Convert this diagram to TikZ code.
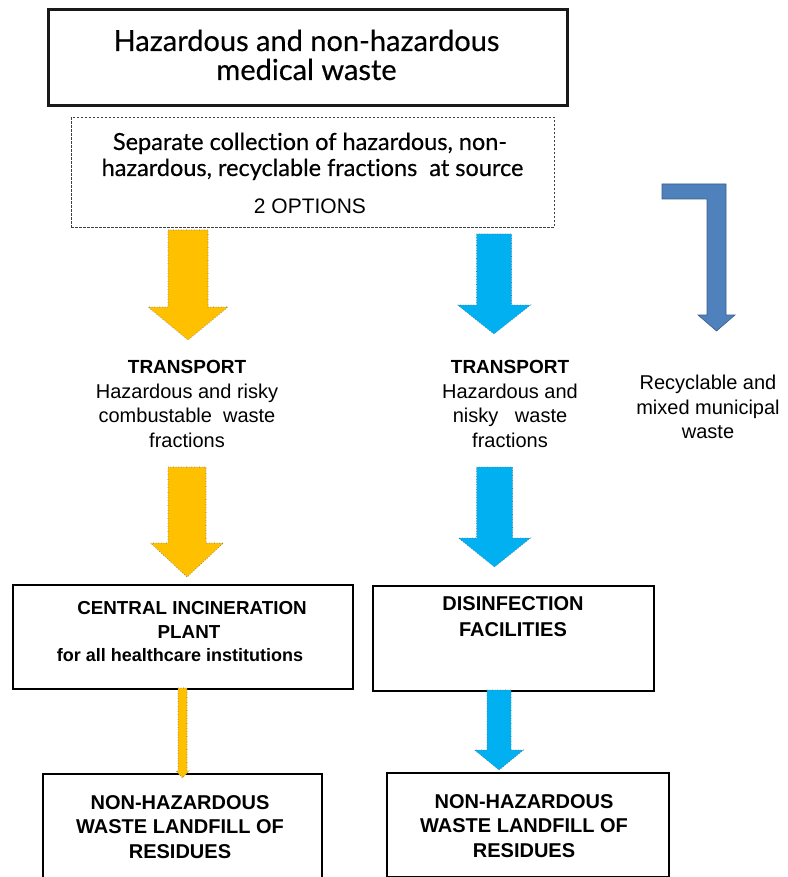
\documentclass[tikz,border=0pt]{standalone}
\usepackage{fontspec}
\setmainfont{Liberation Sans}
\newfontfamily\titlefont[FakeBold=0.4,Ligatures=NoCommon]{Lato}
\definecolor{arrYellow}{HTML}{FFC000}
\definecolor{arrCyan}{HTML}{00B0F0}
\definecolor{arrSteel}{HTML}{4F81BD}
\definecolor{arrSteelEdge}{HTML}{385D8A}
\definecolor{arrEdge}{HTML}{5B6B86}
\newcommand\blockdown[7]{% style, cx, top, base, tip, half shaft, half head
  \draw[#1] ({#2-#6},#3) -- ({#2+#6},#3) -- ({#2+#6},#4) -- ({#2+#7},#4) -- (#2,#5)
    -- ({#2-#7},#4) -- ({#2-#6},#4) -- cycle;}
\begin{document}
\begin{tikzpicture}[x=1pt,y=-1pt,
  boxframe/.style={draw=black, line width=1.5pt, inner sep=0pt, anchor=north west},
  linetext/.style={anchor=base, inner sep=0pt, font=\fontsize{20}{24}\selectfont},
  boldline/.style={anchor=base, inner sep=0pt, font=\fontsize{20}{24}\selectfont\bfseries},
  yellowarrow/.style={fill=arrYellow, draw=arrEdge, line width=0.6pt, dotted},
  cyanarrow/.style={fill=arrCyan, draw=arrEdge, line width=0.6pt, dotted},
  steelarrow/.style={fill=arrSteel, draw=arrSteelEdge, line width=0.6pt}]
\useasboundingbox (0,0) rectangle (787,877);

% boxes
\node[boxframe, draw=black!90, line width=2.6pt, minimum width=519pt, minimum height=96pt] (topbox) at (47,8) {};
\node[boxframe, draw=black!75, line width=0.8pt, dash pattern=on 2.5pt off 1.5pt, minimum width=483pt, minimum height=110pt] (sepbox) at (71,117) {};
\node[boxframe, minimum width=340pt, minimum height=104pt] (incbox) at (12,584) {};
\node[boxframe, minimum width=281pt, minimum height=105pt] (disbox) at (372,585) {};
\node[boxframe, minimum width=279pt, minimum height=110pt] (landL) at (42,773) {};
\node[boxframe, minimum width=282pt, minimum height=104pt] (landR) at (386,772) {};

% title text
\node[anchor=base, inner sep=0pt, font=\titlefont\fontsize{29}{33}\selectfont] (t1) at (306.5,51) {Hazardous and non-hazardous};
\node[anchor=base, inner sep=0pt, font=\titlefont\fontsize{29}{33}\selectfont] (t2) at (306.5,80) {medical waste};

% separate collection text
\node[anchor=base, inner sep=0pt, font=\titlefont\fontsize{23.5}{26}\selectfont] (s1) at (310,150) {Separate collection of hazardous, non-};
\node[anchor=base, inner sep=0pt, font=\titlefont\fontsize{23.5}{26}\selectfont] (s2) at (312.5,176) {hazardous, recyclable fractions\ \ at source};
\node[anchor=base, inner sep=0pt, font=\fontsize{21}{24}\selectfont] (s3) at (310,214) {2 OPTIONS};

% block arrows, first row
\blockdown{yellowarrow}{188}{230}{307}{340}{20}{40}
\blockdown{cyanarrow}{494}{234}{305}{334}{17.5}{36.5}
\draw[steelarrow] (662,184) -- (726,184) -- (726,315) -- (735,315) -- (716.5,331)
  -- (698,315) -- (707,315) -- (707,199) -- (662,199) -- cycle;

% left column text
\node[boldline, font=\fontsize{19}{24}\selectfont\bfseries] (l1) at (187,373) {TRANSPORT};
\node[linetext] (l2) at (187,398) {Hazardous and risky};
\node[linetext] (l3) at (187,422.5) {combustable\ \ waste};
\node[linetext] (l4) at (187,447) {fractions};

% right column text
\node[boldline, font=\fontsize{19}{24}\selectfont\bfseries] (r1) at (510,373) {TRANSPORT};
\node[linetext] (r2) at (510,398) {Hazardous and};
\node[linetext] (r3) at (510,422.5) {nisky\ \ \ waste};
\node[linetext] (r4) at (510,447) {fractions};

% recyclable text
\node[linetext] (m1) at (708,389) {Recyclable and};
\node[linetext] (m2) at (708,414) {mixed municipal};
\node[linetext] (m3) at (708,438) {waste};

% block arrows, second row
\blockdown{yellowarrow}{187}{467}{543}{577}{19}{36.5}
\blockdown{cyanarrow}{494.5}{467}{538}{567}{18}{36}

% incineration text
\node[boldline, font=\fontsize{18.8}{24}\selectfont\bfseries] (c1) at (192,614) {CENTRAL INCINERATION};
\node[boldline, font=\fontsize{18.8}{24}\selectfont\bfseries] (c2) at (189,638.5) {PLANT};
\node[anchor=base, inner sep=0pt, font=\fontsize{18}{22}\selectfont\bfseries] (c3) at (180,661) {for all healthcare institutions};

% disinfection text
\node[boldline] (d1) at (513,610) {DISINFECTION};
\node[boldline] (d2) at (513,636) {FACILITIES};

% third row arrows
\blockdown{yellowarrow}{182.5}{688}{771}{778}{4.5}{6.5}
\blockdown{cyanarrow}{499}{690}{750}{770}{12}{24.5}

% landfill texts
\node[boldline] (a1) at (180,809) {NON-HAZARDOUS};
\node[boldline] (a2) at (180,833.5) {WASTE LANDFILL OF};
\node[boldline] (a3) at (180,858) {RESIDUES};
\node[boldline] (b1) at (524,808) {NON-HAZARDOUS};
\node[boldline] (b2) at (524,832.5) {WASTE LANDFILL OF};
\node[boldline] (b3) at (524,857) {RESIDUES};
\end{tikzpicture}
\end{document}
